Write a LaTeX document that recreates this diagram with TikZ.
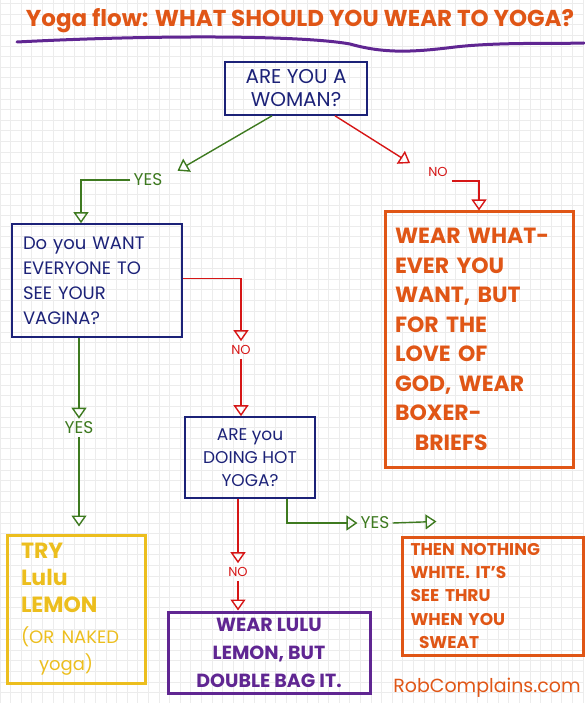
\documentclass[tikz,border=0pt]{standalone}
\usepackage{fontspec}
\setmainfont{Poppins}
\usetikzlibrary{arrows.meta}

\definecolor{inkblue}{RGB}{28,34,120}
\definecolor{inkgreen}{RGB}{62,122,32}
\definecolor{inkred}{RGB}{214,22,22}
\definecolor{inkorange}{RGB}{224,86,22}
\definecolor{inkyellow}{RGB}{236,190,30}
\definecolor{inkpurple}{RGB}{96,38,146}
\definecolor{gridgray}{RGB}{236,236,236}

\tikzset{
  openhead/.style={-{Triangle[open,length=11pt,width=15pt]}},
  qbox/.style={draw=inkblue, text=inkblue, line width=1.6pt, inner sep=0pt},
  obox/.style={draw=inkorange, text=inkorange, line width=3pt, inner sep=0pt},
  yesline/.style={draw=inkgreen, line width=1.4pt, openhead},
  noline/.style={draw=inkred, line width=1.4pt, openhead},
  yeslabel/.style={text=inkgreen, inner sep=3pt, font=\fontsize{17}{20}\selectfont},
  nolabel/.style={text=inkred, inner sep=4pt, font=\fontsize{13}{16}\selectfont}
}

\begin{document}
\begin{tikzpicture}[x=1pt,y=-1pt]
\useasboundingbox (0,0) rectangle (584,703);
% graph paper
\foreach \i in {0,...,55}
  \draw[gridgray, line width=1pt] (\i*10.6,0) -- (\i*10.6,703);
\foreach \i in {0,...,66}
  \draw[gridgray, line width=1pt] (0,3.7+\i*10.6) -- (584,3.7+\i*10.6);

% title
\node[text=inkorange, font=\fontsize{23}{26}\selectfont\bfseries] (title) at (300,21) {Yoga flow: WHAT SHOULD YOU WEAR TO YOGA?};
\draw[inkpurple, line width=3pt, line cap=round] (17,42) .. controls (150,35) and (300,35) .. (350,44)
  .. controls (385,54) and (415,52) .. (455,47) .. controls (500,42) and (550,44) .. (584,43);

% questions
\node[qbox, minimum width=142pt, minimum height=53pt, align=center, font=\fontsize{20}{23}\selectfont] (woman) at (296,88.5) {ARE YOU A\\WOMAN?};
\node[qbox, minimum width=170pt, minimum height=113pt, text width=148pt, align=left, font=\fontsize{18}{25}\selectfont] (expose) at (97,280.5) {Do you WANT\\EVERYONE TO\\SEE YOUR\\VAGINA?};
\node[qbox, minimum width=130pt, minimum height=81pt, align=center, font=\fontsize{17}{23}\selectfont] (hotyoga) at (250,457.5) {ARE you\\DOING HOT\\YOGA?};

% answers
\node[obox, minimum width=188pt, minimum height=255pt, text width=168pt, align=left, font=\fontsize{22}{29.5}\selectfont\bfseries] (whatever) at (479,339.5) {WEAR WHAT-\\EVER YOU\\WANT, BUT\\FOR THE\\LOVE OF\\GOD, WEAR\\BOXER-\\\hspace*{0.9em}BRIEFS};
\node[draw=inkyellow, text=inkyellow, line width=3pt, inner sep=0pt, minimum width=138pt, minimum height=148pt, text width=110pt, align=left, font=\fontsize{22}{27}\selectfont\bfseries] (tryit) at (76,609) {TRY\\Lulu\\LEMON\\[6pt]{\mdseries\fontsize{18}{25}\selectfont(OR NAKED\\\hspace*{1em}yoga)}};
\node[draw=inkpurple, text=inkpurple, line width=3pt, inner sep=0pt, minimum width=202pt, minimum height=81pt, align=center, font=\fontsize{19}{28}\selectfont\bfseries] (doublebag) at (269,652.5) {WEAR LULU\\LEMON, BUT\\DOUBLE BAG IT.};
\node[obox, minimum width=181pt, minimum height=118pt, text width=164pt, align=left, font=\fontsize{17}{23.3}\selectfont\bfseries] (seethru) at (492.5,596) {THEN NOTHING\\WHITE. IT'S\\SEE THRU\\WHEN YOU\\\hspace*{0.5em}SWEAT};

% labels on the connectors
\node[yeslabel] (yesA) at (148,180) {YES};
\node[nolabel] (noA) at (438,172) {NO};
\node[nolabel] (noB) at (241,350) {NO};
\node[yeslabel] (yesB) at (79,428) {YES};
\node[nolabel] (noC) at (238,572) {NO};
\node[yeslabel] (yesC) at (375,523) {YES};

% connectors
\draw[yesline] ([xshift=-24pt]woman.south) -- ([xshift=12pt]yesA.north east);
\draw[yesline] (yesA.west) -| ([xshift=-16pt]expose.north);
\draw[noline] ([xshift=39pt]woman.south) -- ([xshift=-14pt]noA.north west);
\draw[noline] (noA.south east) -| (whatever.north);
\draw[noline] ([yshift=2pt]expose.east) -| (noB.north);
\draw[noline] (noB.south) -- (noB.south |- hotyoga.north);
\draw[yesline] ([xshift=-18pt]expose.south) -- (yesB.north);
\draw[yesline, shorten >=7pt] (yesB.south) -- (yesB.south |- tryit.north);
\draw[noline] ([xshift=-12pt]hotyoga.south) -- (noC.north);
\draw[noline] (noC.south) -- (noC.south |- doublebag.north);
\draw[yesline] ([xshift=37pt]hotyoga.south) |- (yesC.west);
\draw[yesline] (yesC.east) -- ([xshift=36pt,yshift=14pt]seethru.north west);

% signature
\node[text=inkorange, font=\fontsize{19}{22}\selectfont] (site) at (487,688) {RobComplains.com};
\end{tikzpicture}
\end{document}
